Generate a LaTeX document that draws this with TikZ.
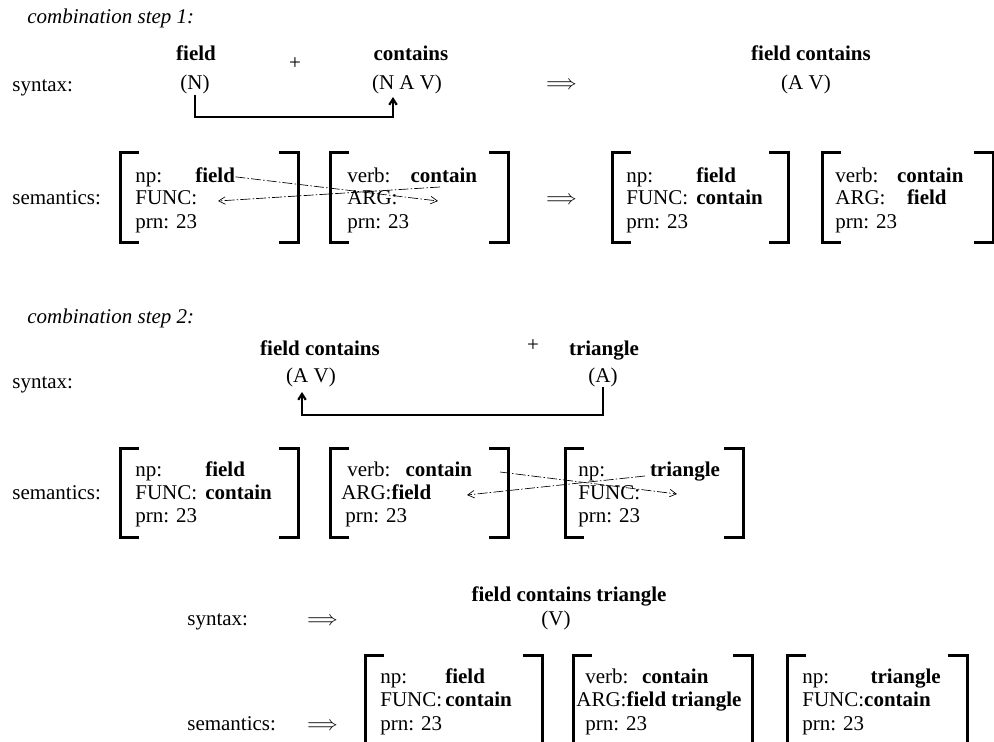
\documentclass[tikz,border=0pt]{standalone}
\usepackage{amsmath}
\usepackage{fontspec}
\usepackage{unicode-math}
\setmainfont{Liberation Serif}
\usepackage{tikz}
\usetikzlibrary{arrows.meta}

% brackets of a feature structure: left, top, right, bottom
\newcommand{\avmbox}[4]{%
\draw[brack] (#1+19,#2) -| (#1,#4) -- (#1+19,#4);
\draw[brack] (#3-19,#2) -| (#3,#4) -- (#3-19,#4);}

\begin{document}
\begin{tikzpicture}[x=0.6pt,y=-0.6pt,
every node/.style={font=\fontsize{12.6}{13.8}\selectfont, inner sep=0pt}]

\tikzstyle{heading} = [anchor=base west, font=\fontsize{12.6}{13.8}\selectfont\itshape]
\tikzstyle{tier} = [anchor=base west]
\tikzstyle{word} = [anchor=base, font=\fontsize{12.6}{13.8}\selectfont\bfseries]
\tikzstyle{cat} = [anchor=base]
\tikzstyle{feat} = [anchor=base west]
\tikzstyle{brack} = [line width=1.8pt]
\tikzstyle{link} = [line width=1.3pt, -{Straight Barb[length=3.5pt,width=4.5pt]}]
\tikzstyle{copyline} =
[thin,
dash pattern=on 6pt off 1.3pt on 0.9pt off 1.3pt,
-{Straight Barb[length=4pt,width=4.5pt]}]

\useasboundingbox (0,0) rectangle (994,742);
\clip (0,0) rectangle (994,742);

% combination step 1
\node (head1) [heading] at (27,24) {combination step 1:};
\node (syn1) [tier] at (12,92) {syntax:};
\node (wfield) [word] at (196,61) {field};
\node (cN) [cat] at (195,90) {(N)};
\node (plus1) [cat] at (295,70) {+};
\node (wcontains) [word] at (411,61) {contains};
\node (cNAV) [cat] at (407,90) {(N A V)};
\node (to1) [cat] at (562,90) {$\Longrightarrow$};
\node (wfc) [word] at (811,61) {field contains};
\node (cAV) [cat] at (806,90) {(A V)};

\coordinate (navN) at (393,97);
\draw[link] (cN.south) -- (cN.south |- 0,117) -| (navN);

\node (sem1) [tier] at (12,205) {semantics:};
\node (to2) [cat] at (562,205) {$\Longrightarrow$};

\avmbox{120}{153}{298}{242}
\node (np1) [feat] at (135,182) {\makebox[36pt][l]{np:}\textbf{field}};
\node (func1) [feat] at (135,205) {FUNC:};
\node (prn1) [feat] at (135,228) {prn: 23};

\avmbox{330}{153}{508}{242}
\node (verb1) [feat] at (347,182) {\makebox[38pt][l]{verb:}\textbf{contain}};
\node (arg1) [feat] at (347,205) {ARG:};
\node (prnb1) [feat] at (347,228) {prn: 23};

\avmbox{612}{153}{788}{242}
\node (np1r) [feat] at (626,182) {\makebox[42pt][l]{np:}\textbf{field}};
\node (func1r) [feat] at (626,205) {\makebox[42pt][l]{FUNC:}\textbf{contain}};
\node (prn1r) [feat] at (626,228) {prn: 23};

\avmbox{822}{153}{993}{242}
\node (verb1r) [feat] at (835,182) {\makebox[37pt][l]{verb:}\textbf{contain}};
\node (arg1r) [feat] at (835,205) {\makebox[43pt][l]{ARG:}\textbf{field}};
\node (prnb1r) [feat] at (835,228) {prn: 23};

\coordinate (argslot1) at (438,201);
\coordinate (contfrom1) at (440,187);
\coordinate (funcslot1) at (218,201);
\draw[copyline] (np1.east) -- (argslot1);
\draw[copyline] (contfrom1) -- (funcslot1);

% combination step 2
\node (head2) [heading] at (27,323) {combination step 2:};
\node (syn2) [tier] at (12,388) {syntax:};
\node (wfc2) [word] at (320,355) {field contains};
\node (cAV2) [cat] at (311,382) {(A V)};
\node (plus2) [cat] at (533,351) {+};
\node (wtri) [word] at (604,355) {triangle};
\node (cA) [cat] at (603,382) {(A)};

\coordinate (avA) at (302,392);
\draw[link] (cA.south) -- (cA.south |- 0,415) -| (avA);

\node (sem2) [tier] at (12,499) {semantics:};

\avmbox{120}{448}{298}{537}
\node (np2) [feat] at (135,476) {\makebox[42pt][l]{np:}\textbf{field}};
\node (func2) [feat] at (135,499) {\makebox[42pt][l]{FUNC:}\textbf{contain}};
\node (prn2) [feat] at (135,522) {prn: 23};

\avmbox{330}{448}{508}{537}
\node (verb2) [feat] at (347,476) {\makebox[35pt][l]{verb:}\textbf{contain}};
\node (arg2) [feat] at (341,499) {ARG:\textbf{field}};
\node (prnb2) [feat] at (345,522) {prn: 23};

\avmbox{565}{448}{743}{537}
\node (np2r) [feat] at (578,476) {\makebox[43pt][l]{np:}\textbf{triangle}};
\node (func2r) [feat] at (578,499) {FUNC:};
\node (prn2r) [feat] at (578,522) {prn: 23};

\coordinate (contfrom2) at (500,472);
\coordinate (funcslot2) at (677,494);
\coordinate (trifrom2) at (645,476);
\coordinate (argslot2) at (467,495);
\draw[copyline] (contfrom2) -- (funcslot2);
\draw[copyline] (trifrom2) -- (argslot2);

% result
\node (wall) [word] at (569,601) {field contains triangle};
\node (syn3) [tier] at (187,625) {syntax:};
\node (to3) [cat] at (323,625) {$\Longrightarrow$};
\node (cV) [cat] at (556,625) {(V)};
\node (sem3) [tier] at (187,730) {semantics:};
\node (to4) [cat] at (323,730) {$\Longrightarrow$};

\avmbox{365}{655}{542}{770}
\node (np3) [feat] at (380,683) {\makebox[39pt][l]{np:}\textbf{field}};
\node (func3) [feat] at (380,706) {\makebox[39pt][l]{FUNC:}\textbf{contain}};
\node (prn3) [feat] at (380,730) {prn: 23};

\avmbox{573}{655}{752}{770}
\node (verb3) [feat] at (585,683) {\makebox[34pt][l]{verb:}\textbf{contain}};
\node (arg3) [feat] at (576,706) {ARG:\textbf{field triangle}};
\node (prnb3) [feat] at (585,730) {prn: 23};

\avmbox{787}{655}{967}{770}
\node (np3r) [feat] at (802,683) {\makebox[41pt][l]{np:}\textbf{triangle}};
\node (func3r) [feat] at (802,706) {FUNC:\textbf{contain}};
\node (prn3r) [feat] at (802,730) {prn: 23};

\end{tikzpicture}
\end{document}
